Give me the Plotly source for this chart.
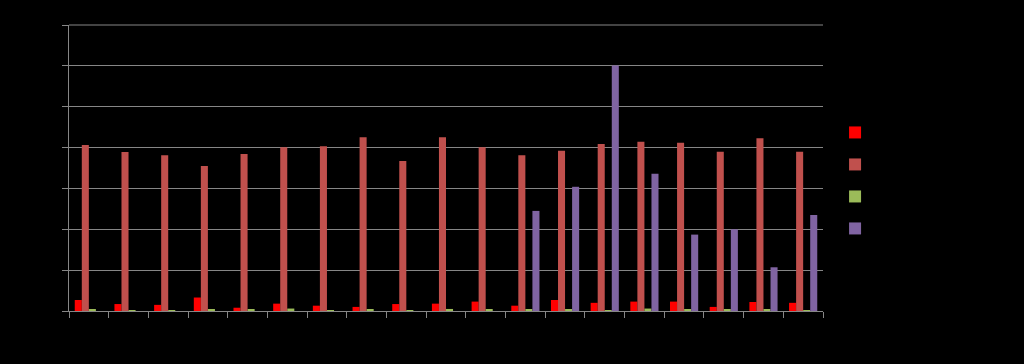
import plotly.graph_objects as go

categories = [str(i) for i in range(1, 20)]
series_names = ["Series 1", "Series 2", "Series 3", "Series 4"]
s1 = [0.27, 0.17, 0.15, 0.33, 0.08, 0.18, 0.13, 0.10, 0.17, 0.18,
      0.23, 0.13, 0.27, 0.20, 0.23, 0.23, 0.10, 0.22, 0.20]
s2 = [4.06, 3.89, 3.81, 3.55, 3.84, 4.01, 4.03, 4.25, 3.67, 4.25,
      4.01, 3.81, 3.92, 4.09, 4.14, 4.12, 3.90, 4.23, 3.90]
s3 = [0.03, 0.02, 0.02, 0.03, 0.03, 0.06, 0.02, 0.04, 0.02, 0.05,
      0.04, 0.03, 0.03, 0.02, 0.06, 0.03, 0.03, 0.03, 0.02]
s4 = [0, 0, 0, 0, 0, 0, 0, 0, 0, 0,
      0, 2.45, 3.04, 6.01, 3.36, 1.87, 2.00, 1.07, 2.35]
colors = ["#FF0000", "#C0504D", "#9BBB59", "#8064A2"]

fig = go.Figure()
for i, (name, vals) in enumerate(zip(series_names, [s1, s2, s3, s4])):
    fig.add_trace(go.Bar(x=categories, y=vals, name=name, marker_color=colors[i],
                         marker_line_width=0, legendgroup=name))

grid = "#868686"
fig.add_shape(type="line", xref="paper", yref="paper", x0=0, x1=1, y0=1, y1=1,
              line=dict(color=grid, width=1), layer="below")
fig.update_layout(
    width=1024, height=364,
    paper_bgcolor="black", plot_bgcolor="black",
    margin=dict(l=69, r=201, t=25, b=53),
    barmode="group", bargap=0.29, bargroupgap=0,
    showlegend=True,
    legend=dict(x=1.016, xanchor="left", y=0.675, yanchor="top",
                traceorder="grouped", tracegroupgap=13,
                font=dict(color="black", size=12), bgcolor="black"),
    xaxis=dict(showgrid=False, showline=True, linecolor=grid, linewidth=1,
               ticks="outside", tickson="boundaries", ticklen=6, tickcolor=grid,
               tickfont=dict(color="black")),
    yaxis=dict(range=[0, 7], dtick=1, showgrid=True, gridcolor=grid, gridwidth=1,
               showline=True, linecolor=grid, ticks="outside", ticklen=6,
               tickcolor=grid, tickfont=dict(color="black"), zeroline=False),
    font=dict(family="Liberation Sans"),
)
fig.write_html("out.html", config={"displayModeBar": False},
               post_script="document.body.style.margin='0';document.body.style.background='black';")
